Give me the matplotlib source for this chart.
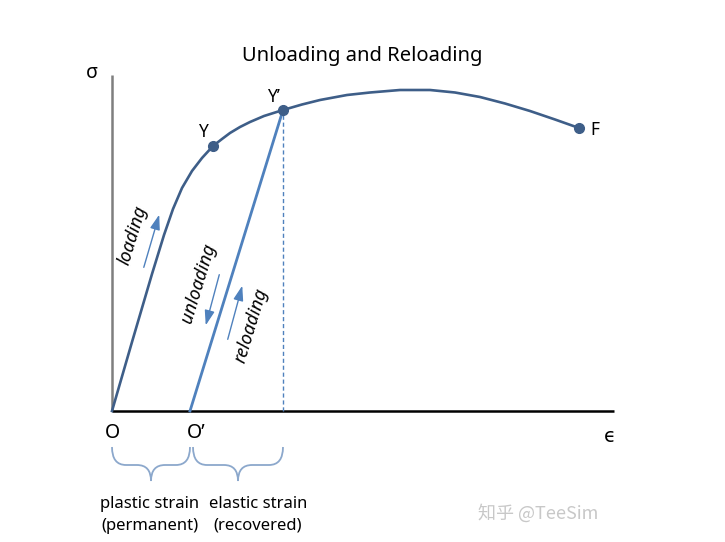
import matplotlib.pyplot as plt
from matplotlib.path import Path
from matplotlib.patches import PathPatch

# main loading curve (strain, stress in arbitrary units)
strain = [0, 20, 40, 52, 61, 70, 80, 90, 101, 110, 118, 128, 138, 152, 171, 190, 208, 235, 258, 288, 318, 343, 368, 393, 418, 443, 467]
stress = [0, 69, 137, 176, 202, 223, 240, 253, 265, 272, 278, 284, 289, 295, 301, 306.5, 311, 316, 318.5, 321, 321, 318.5, 314, 307.5, 300, 291.5, 283]

# labelled points
point_names = ["Y", "Y’", "F"]
point_strain = [101, 171, 467]
point_stress = [265, 301, 283]

# unload / reload line goes from O' up to Y'
o_prime = (78, 0)
y_prime = (171, 301)

main_col = "#3E5E88"
line_col = "#4F81BD"
brace_col = "#8CA8CC"

fig = plt.figure(figsize=(7.25, 5.42), dpi=100)
ax = fig.add_axes([0, 0, 1, 1])
ax.set_xlim(-112, 613)
ax.set_ylim(-131, 411)
ax.axis("off")

font = "Noto Sans"

# axes lines
ax.plot([0, 0], [0, 336], color="#7F7F7F", lw=1.8, solid_capstyle="butt")
ax.plot([0, 502], [0, 0], color="black", lw=1.8, solid_capstyle="butt")

# curve, reload line, dashed drop line
ax.plot(strain, stress, color=main_col, lw=1.9, solid_joinstyle="round")
ax.plot([o_prime[0], y_prime[0]], [o_prime[1], y_prime[1]], color=line_col, lw=2.0)
ax.plot([y_prime[0], y_prime[0]], [0, y_prime[1]], color=line_col, lw=1, ls=(0, (3, 2)))
ax.plot(point_strain, point_stress, "o", color=main_col, ms=7, zorder=5)

# point labels
ax.text(point_strain[0] - 5, point_stress[0] + 5, point_names[0], ha="right", va="bottom", fontsize=12.5, family=font)
ax.text(point_strain[1] - 3, point_stress[1] + 4, point_names[1], ha="right", va="bottom", fontsize=12.5, family=font)
ax.text(point_strain[2] + 11, point_stress[2] - 2, point_names[2], ha="left", va="center", fontsize=12.5, family=font)

ax.text(1, -12, "O", ha="center", va="top", fontsize=14, family=font)
ax.text(o_prime[0] + 6, -12, "O’", ha="center", va="top", fontsize=14, family=font)
ax.text(-20, 338, "σ", ha="center", va="center", fontsize=14, family=font)
ax.text(498, -25, "ϵ", ha="center", va="center", fontsize=14, family="DejaVu Sans")

ax.text(250, 355, "Unloading and Reloading", ha="center", va="center", fontsize=14.5, family=font)

# rotated labels along the lines
ax.text(21, 176, "loading", rotation=73, ha="center", va="center", fontsize=13, family=font, style="italic")
ax.text(86, 128, "unloading", rotation=73, ha="center", va="center", fontsize=13, family=font, style="italic")
ax.text(139, 86, "reloading", rotation=73, ha="center", va="center", fontsize=13, family=font, style="italic")

# little direction arrows
arrow = dict(arrowstyle="-|>,head_length=0.9,head_width=0.3", color=line_col, lw=1.0)
ax.annotate("", xy=(48, 199), xytext=(31, 141), arrowprops=arrow)
ax.annotate("", xy=(93, 83), xytext=(108, 139), arrowprops=arrow)
ax.annotate("", xy=(131, 128), xytext=(115, 69), arrowprops=arrow)


def brace(x0, x1, ytop=-36, ymid=-54, ytip=-70, r=14):
    xc = (x0 + x1) / 2
    verts = [(x0, ytop), (x0, ymid), (x0 + r, ymid),
             (xc - r, ymid),
             (xc, ymid), (xc, ytip),
             (xc, ymid), (xc + r, ymid),
             (x1 - r, ymid),
             (x1, ymid), (x1, ytop)]
    codes = [Path.MOVETO, Path.CURVE3, Path.CURVE3,
             Path.LINETO,
             Path.CURVE3, Path.CURVE3,
             Path.CURVE3, Path.CURVE3,
             Path.LINETO,
             Path.CURVE3, Path.CURVE3]
    ax.add_patch(PathPatch(Path(verts, codes), fc="none", ec=brace_col, lw=1.3))


brace(0, 78)
brace(81, 171)

ax.text(38, -93, "plastic strain", ha="center", va="center", fontsize=12, family=font)
ax.text(38, -115, "(permanent)", ha="center", va="center", fontsize=12, family=font)
ax.text(146, -93, "elastic strain", ha="center", va="center", fontsize=12, family=font)
ax.text(146, -115, "(recovered)", ha="center", va="center", fontsize=12, family=font)

# watermark
ax.text(426, -102, "知乎 @TeeSim", ha="center", va="center", fontsize=13,
        color="#C8C8C8", family=["Noto Sans CJK SC", "DejaVu Sans"])

fig.savefig("out.png", dpi=100)
